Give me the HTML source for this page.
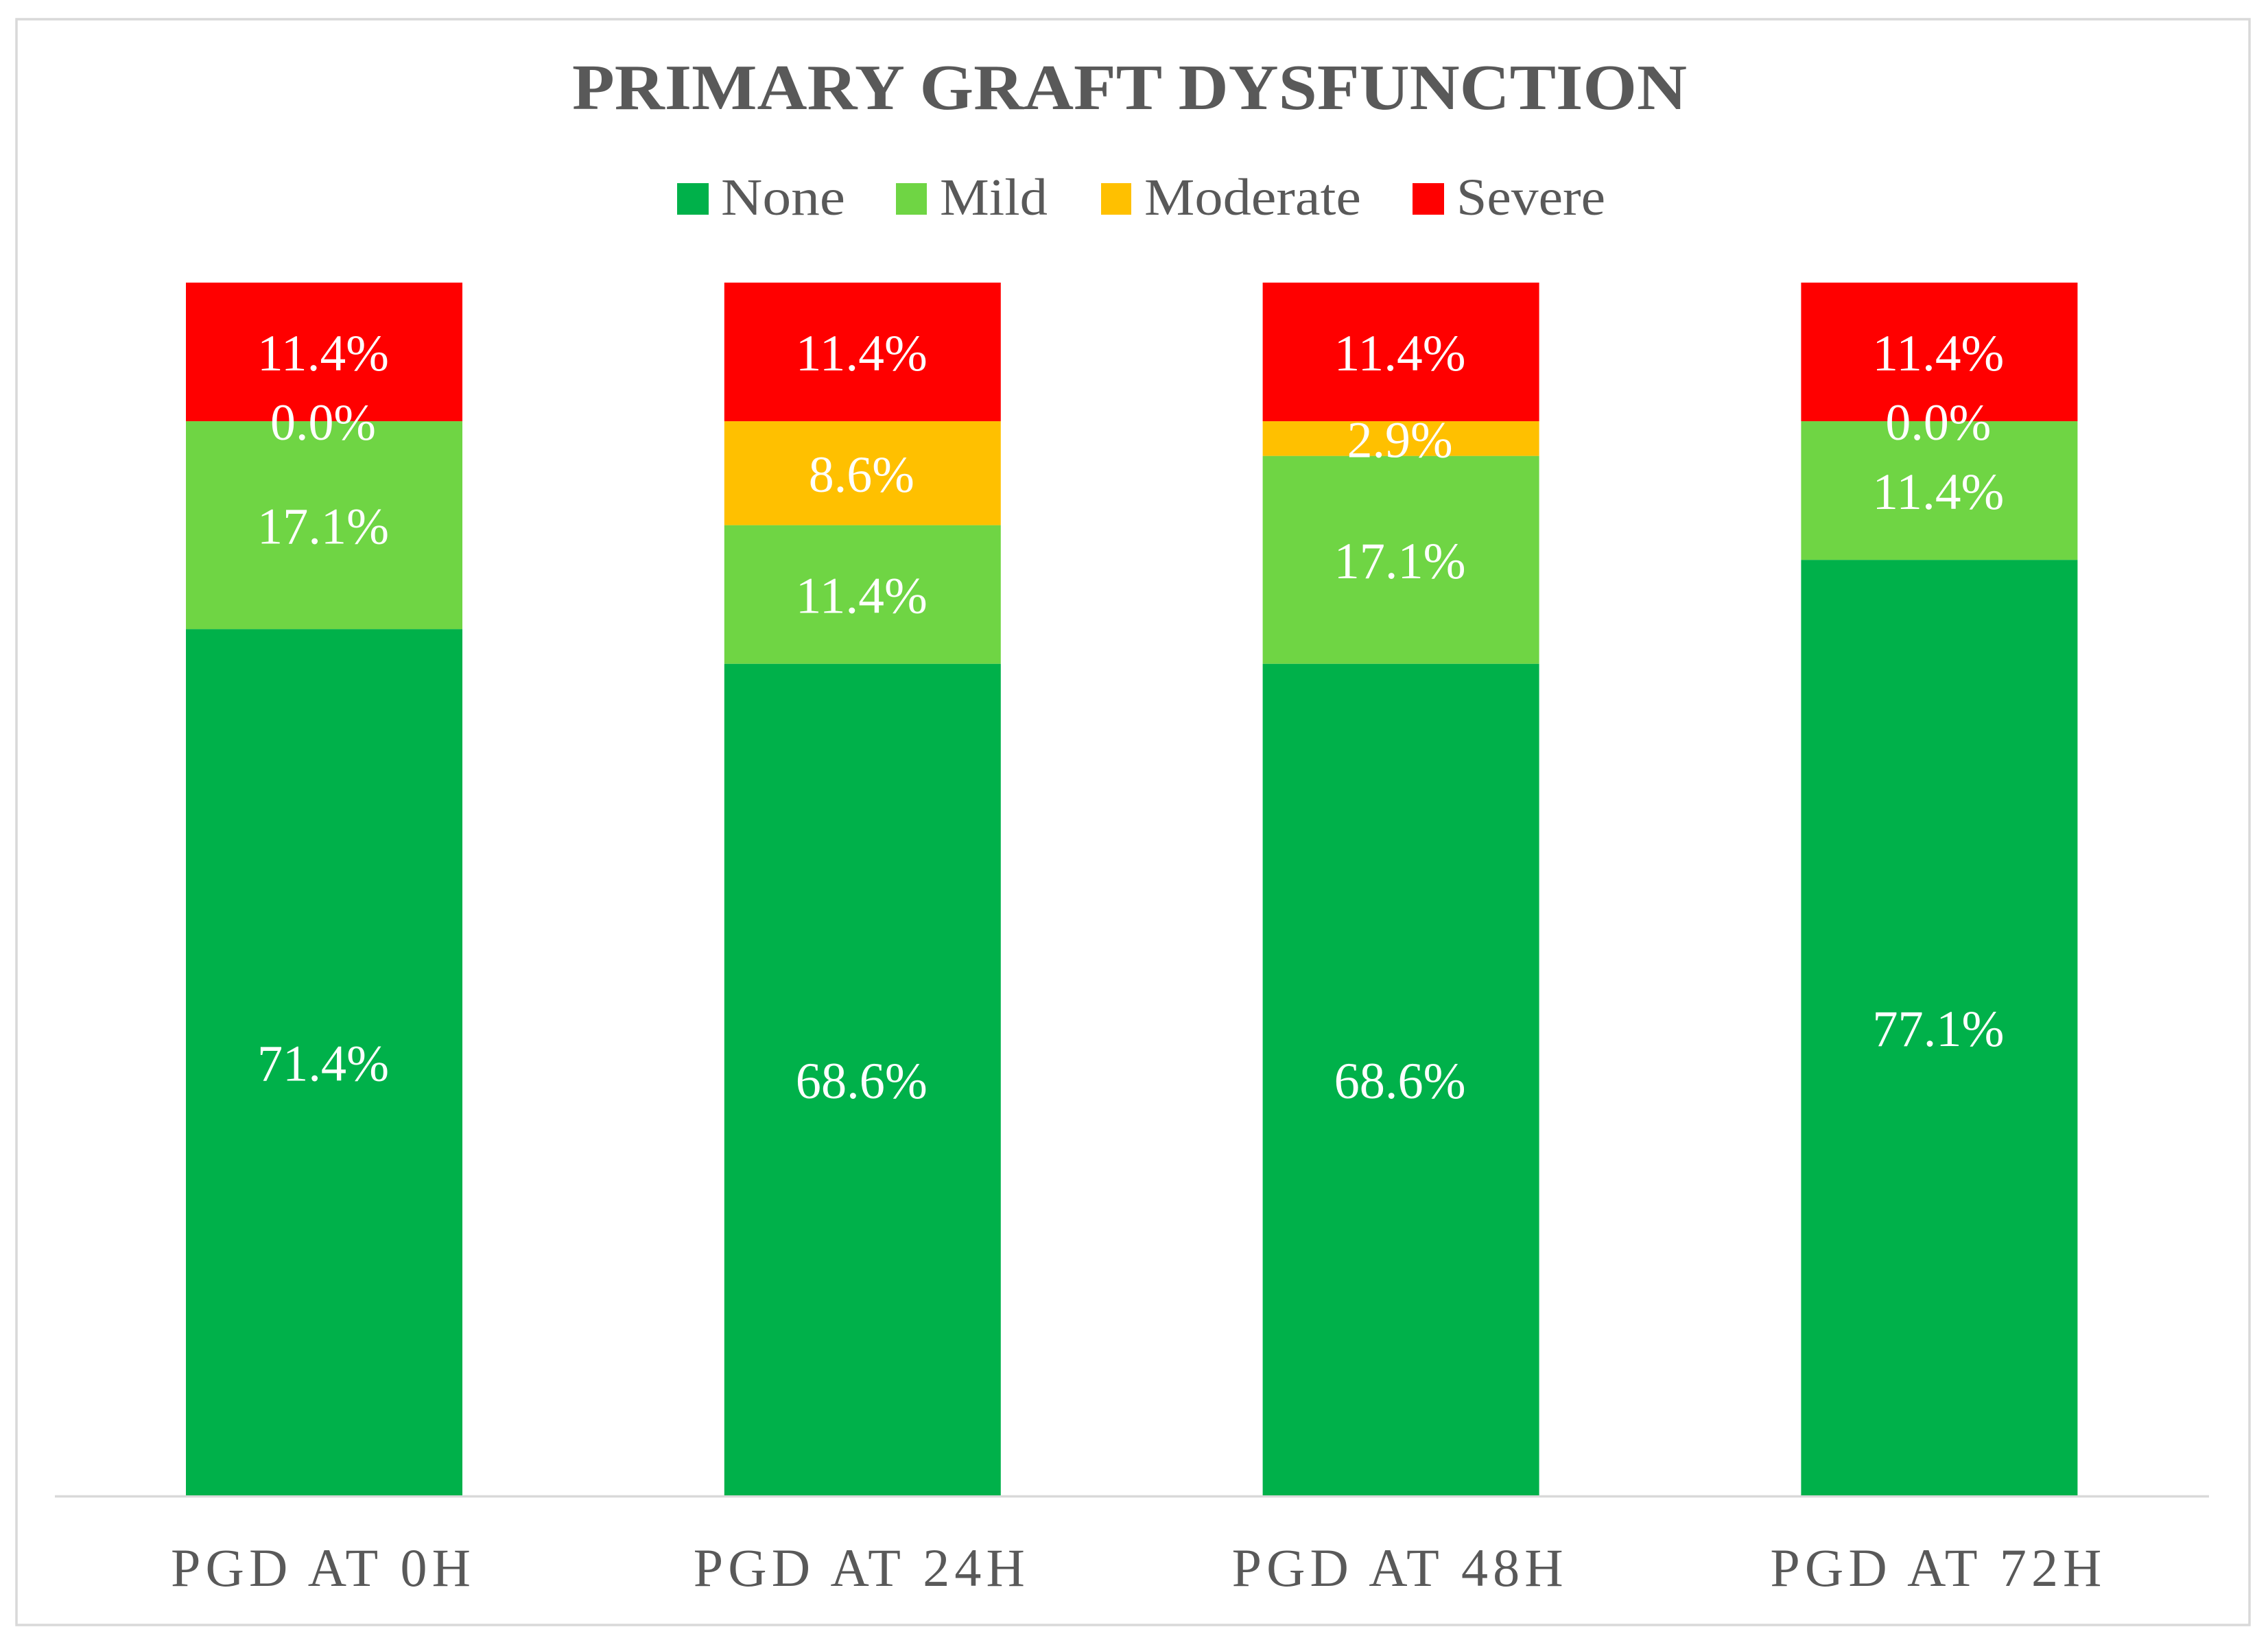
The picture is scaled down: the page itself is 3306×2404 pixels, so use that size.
<!DOCTYPE html>
<html lang="en">
<head>
<meta charset="utf-8">
<title>Primary Graft Dysfunction</title>
<style>
  html, body { margin: 0; padding: 0; background: #ffffff; }
  body { width: 3306px; height: 2404px; overflow: hidden; }
  svg { display: block; }
  text { font-family: "Liberation Serif", serif; }
  .title { font-size: 94px; font-weight: 700; fill: #595959; }
  .legend-text { font-size: 76px; fill: #595959; }
  .cat { font-size: 78px; fill: #595959; }
  .val { font-size: 75px; fill: #ffffff; }
</style>
</head>
<body>
<svg id="chart" xmlns="http://www.w3.org/2000/svg" width="3306" height="2404" viewBox="0 0 3306 2404">
  <rect x="0" y="0" width="3306" height="2404" fill="#ffffff"/>
  <rect x="24" y="28" width="3255" height="2341" fill="#ffffff" stroke="#d9d9d9" stroke-width="3.5"/>
  <text class="title" x="834" y="159" textLength="1625" lengthAdjust="spacingAndGlyphs">PRIMARY GRAFT DYSFUNCTION</text>
  <g>
    <rect x="987" y="267" width="46" height="46" fill="#00b14a"/>
    <text class="legend-text" x="1051" y="313" textLength="181" lengthAdjust="spacingAndGlyphs">None</text>
    <rect x="1306" y="267" width="45" height="46" fill="#6fd544"/>
    <text class="legend-text" x="1370" y="313" textLength="157" lengthAdjust="spacingAndGlyphs">Mild</text>
    <rect x="1605" y="267" width="44" height="46" fill="#ffc000"/>
    <text class="legend-text" x="1668" y="313" textLength="316" lengthAdjust="spacingAndGlyphs">Moderate</text>
    <rect x="2059" y="267" width="46" height="46" fill="#ff0000"/>
    <text class="legend-text" x="2123" y="313" textLength="217" lengthAdjust="spacingAndGlyphs">Severe</text>
  </g>
  <line x1="80" y1="2181.5" x2="3220" y2="2181.5" stroke="#d9d9d9" stroke-width="3.5"/>
  <g id="bars"></g>
  <g id="labels"></g>
  <g id="cats"></g>
</svg>
<script>
const categories = ["PGD AT 0H", "PGD AT 24H", "PGD AT 48H", "PGD AT 72H"];
const noneValues = [71.43, 68.57, 68.57, 77.14];
const mildValues = [17.14, 11.43, 17.14, 11.43];
const moderateValues = [0.0, 8.57, 2.86, 0.0];
const severeValues = [11.43, 11.43, 11.43, 11.43];

const NS = "http://www.w3.org/2000/svg";
const seriesNames = ["none", "mild", "moderate", "severe"];
const seriesColors = ["#00b14a", "#6fd544", "#ffc000", "#ff0000"];
const seriesValues = [noneValues, mildValues, moderateValues, severeValues];

const yScale = function (v) { return 2180 - (v / 100) * 1768; };
const bandLeft = function (i) { return 271 + i * 784.8; };
const barWidth = 403;

const barsGroup = document.getElementById("bars");
const labelsGroup = document.getElementById("labels");
const catsGroup = document.getElementById("cats");

categories.forEach(function (cat, i) {
  let cumulative = 0;
  const left = bandLeft(i);
  const center = left + barWidth / 2;

  seriesValues.forEach(function (values, s) {
    const v = values[i];
    const yTop = yScale(cumulative + v);
    const yBottom = yScale(cumulative);
    cumulative += v;

    const rect = document.createElementNS(NS, "rect");
    rect.setAttribute("x", left);
    rect.setAttribute("y", yTop);
    rect.setAttribute("width", barWidth);
    rect.setAttribute("height", yBottom - yTop);
    rect.setAttribute("fill", seriesColors[s]);
    
    
    barsGroup.appendChild(rect);

    const str = v.toFixed(1) + "%";
    const label = document.createElementNS(NS, "text");
    label.setAttribute("class", "val");
    label.setAttribute("x", center - 1.5);
    label.setAttribute("y", (yTop + yBottom) / 2 + 27);
    label.setAttribute("text-anchor", "middle");
    label.setAttribute("textLength", str.length > 4 ? 192 : 154);
    label.setAttribute("lengthAdjust", "spacingAndGlyphs");
    label.textContent = str;
    
    
    labelsGroup.appendChild(label);
  });

  const catLabel = document.createElementNS(NS, "text");
  catLabel.setAttribute("class", "cat");
  catLabel.setAttribute("x", center - 5);
  catLabel.setAttribute("y", 2312);
  catLabel.setAttribute("text-anchor", "middle");
  catLabel.setAttribute("textLength", cat.length > 9 ? 483 : 437);
  catLabel.setAttribute("lengthAdjust", "spacing");
  catLabel.textContent = cat;
  
  
  catsGroup.appendChild(catLabel);
});
</script>
</body>
</html>
